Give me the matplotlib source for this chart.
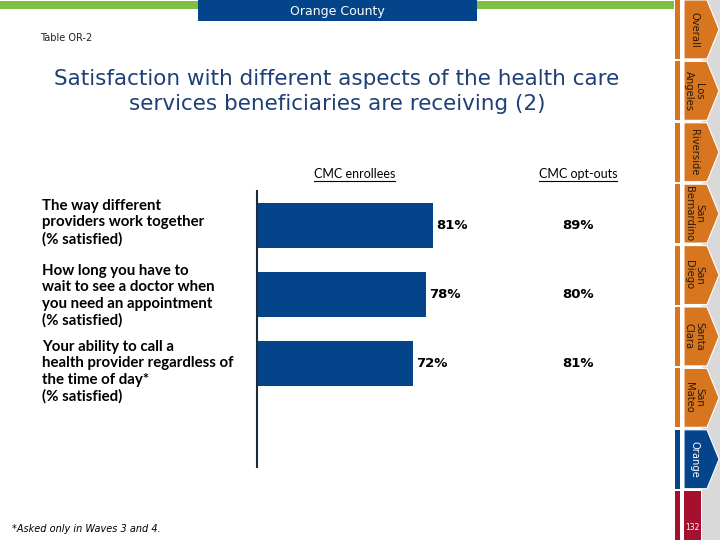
import matplotlib
matplotlib.use('Agg')
import matplotlib.pyplot as plt
from matplotlib.patches import Rectangle, Polygon
from matplotlib.lines import Line2D
from matplotlib.transforms import blended_transform_factory

# ---------------------------------------------------------------
# data
# ---------------------------------------------------------------
questions = [
    'The way different\nproviders work together\n(% satisfied)',
    'How long you have to\nwait to see a doctor when\nyou need an appointment\n(% satisfied)',
    'Your ability to call a\nhealth provider regardless of\nthe time of day*\n(% satisfied)',
]
enrollees = [81, 78, 72]
opt_outs = [89, 80, 81]
groups = ['CMC enrollees', 'CMC opt-outs']
tabs = ['Overall', 'Los\nAngeles', 'Riverside', 'San\nBernardino', 'San\nDiego',
        'Santa\nClara', 'San\nMateo', 'Orange']
active_tab = 'Orange'
page_no = '132'

# colours
blue = '#03448A'
green = '#7DC142'
orange = '#D7761E'
red = '#A4102E'
grey = '#D9D9D9'
navy = '#1F3F77'

W, H = 720, 540
fig = plt.figure(figsize=(7.2, 5.4), dpi=100)

# background layer in pixel coordinates (y down)
bg = fig.add_axes([0, 0, 1, 1])
bg.set_xlim(0, W)
bg.set_ylim(H, 0)
bg.axis('off')

# top green rule + county banner
bg.add_patch(Rectangle((0, 1), 674, 8, color=green, lw=0))
bg.add_patch(Rectangle((198, 0), 279, 21, color=blue, lw=0))
bg.text(337, 11, 'Orange County', color='white', fontsize=9, ha='center', va='center')
bg.text(40, 38, 'Table OR-2', fontsize=7, ha='left', va='center', color='#222222')

# title
bg.text(337, 91.5, 'Satisfaction with different aspects of the health care\n'
        'services beneficiaries are receiving (2)',
        color=navy, fontsize=15.5, ha='center', va='center', linespacing=1.28)

# right-hand navigation tabs
bg.add_patch(Rectangle((702, 0), 18, H, color=grey, lw=0))
pitch = 61.4
for i, name in enumerate(tabs):
    y0 = i * pitch
    y1 = y0 + pitch - 2.5
    c = blue if name == active_tab else orange
    bg.add_patch(Rectangle((675, y0), 5, y1 - y0, color=c, lw=0))
    bg.add_patch(Polygon([(684, y0), (707, y0), (719, (y0 + y1) / 2), (707, y1), (684, y1)],
                         closed=True, facecolor=c, edgecolor='white', lw=0.8))
    bg.text(694, (y0 + y1) / 2, name, rotation=-90, ha='center', va='center',
            fontsize=7.2, linespacing=1.0,
            color='white' if name == active_tab else '#2a1a0a')
y0 = len(tabs) * pitch
bg.add_patch(Rectangle((675, y0), 5, H - y0, color=red, lw=0))
bg.add_patch(Rectangle((684, y0), 17, H - y0, color=red, lw=0))
bg.text(692.5, 527, page_no, color='white', fontsize=5.5, ha='center', va='center')

# footnote
bg.text(12, 529, '*Asked only in Waves 3 and 4.', fontsize=7, style='italic',
        ha='left', va='center')

# ---------------------------------------------------------------
# bar chart
# ---------------------------------------------------------------
ax = fig.add_axes([257 / W, (H - 467) / H, 217 / W, 276 / H])
ax.patch.set_alpha(0)
ypos = list(range(len(questions)))
ax.barh(ypos, enrollees, height=0.65, color=blue)
ax.set_xlim(0, 100)
ax.set_ylim(3.5, -0.5)
for s in ['top', 'right', 'bottom']:
    ax.spines[s].set_visible(False)
ax.spines['left'].set_color('#1c2b3a')
ax.spines['left'].set_linewidth(1.5)
ax.set_xticks([])
ax.set_yticks([])

# column headers (underlined)
col_x = [45, 148]
headers = []
for cx, g in zip(col_x, groups):
    headers.append(ax.text(cx, -0.75, g, fontsize=9, ha='center', va='center',
                           family='Lato', clip_on=False))

fig_y = blended_transform_factory(fig.transFigure, ax.transData)
label_shift = [-0.04, 0.02, 0.12]
for y, v, o, q, sh in zip(ypos, enrollees, opt_outs, questions, label_shift):
    ax.text(v + 1.5, y, f'{v}%', fontsize=9.5, fontweight='bold', ha='left', va='center')
    ax.text(col_x[1], y, f'{o}%', fontsize=9.5, fontweight='bold', ha='center',
            va='center', clip_on=False)
    ax.text(42 / W, y + sh, q, transform=fig_y, fontsize=10.8, fontweight='bold',
            family='Lato', ha='left', va='center', linespacing=1.22)

# underline the headers using their rendered extents
fig.canvas.draw()
r = fig.canvas.get_renderer()
for t in headers:
    bb = t.get_window_extent(r)
    fig.add_artist(Line2D([bb.x0 / W, bb.x1 / W], [(bb.y0 - 1) / H, (bb.y0 - 1) / H],
                          transform=fig.transFigure, color='black', lw=0.8))

plt.savefig('out.png', dpi=100)
